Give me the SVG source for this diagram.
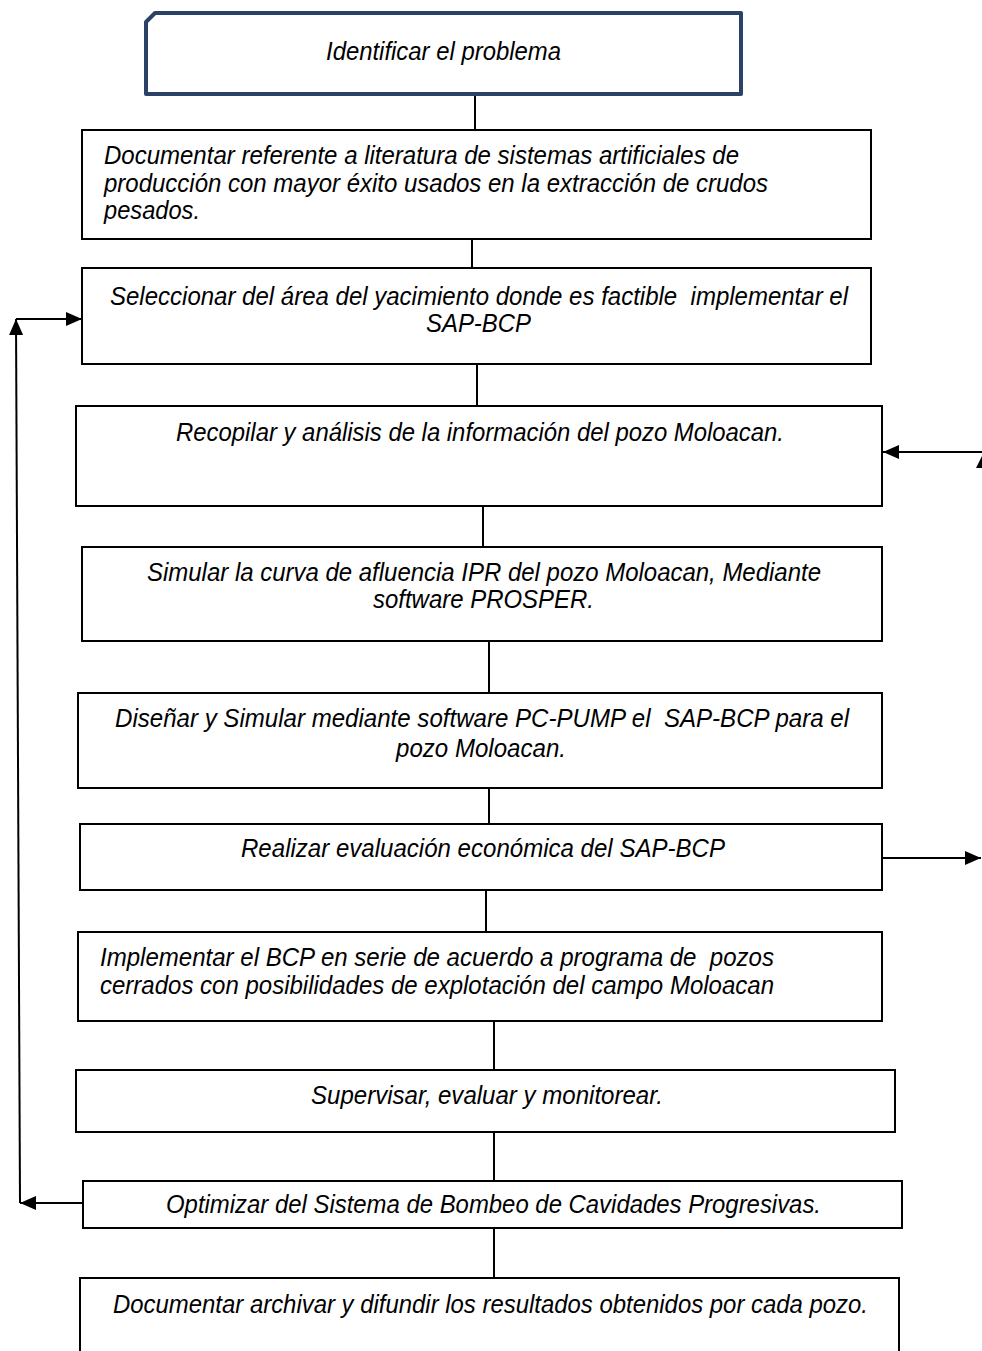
<svg xmlns="http://www.w3.org/2000/svg" width="982" height="1351" viewBox="0 0 982 1351">
<style>
.box{fill:#ffffff;stroke:#000000;stroke-width:2}
.top{fill:#ffffff;stroke:#2B4266;stroke-width:4;stroke-linejoin:round}
.t{font-family:"Liberation Sans",Arial,sans-serif;font-style:italic;font-size:25px;fill:#000000}
.c{stroke:#000000;stroke-width:2;fill:none}
.ah{fill:#000000}
</style>
<defs>
<marker id="arr" viewBox="0 0 16 14" refX="16" refY="7" markerWidth="16" markerHeight="14" markerUnits="userSpaceOnUse" orient="auto">
<path d="M0,0 L16,7 L0,14 Z" class="ah"/>
</marker>
</defs>
<rect width="982" height="1351" fill="#ffffff"/>
<g id="connectors">
<line class="c" x1="475" y1="94" x2="475" y2="130"/>
<line class="c" x1="472" y1="239" x2="472" y2="268"/>
<line class="c" x1="477" y1="364" x2="477" y2="406"/>
<line class="c" x1="483" y1="506" x2="483" y2="547"/>
<line class="c" x1="489" y1="641" x2="489" y2="693"/>
<line class="c" x1="489" y1="788" x2="489" y2="824"/>
<line class="c" x1="486" y1="890" x2="486" y2="932"/>
<line class="c" x1="494" y1="1021" x2="494" y2="1070"/>
<line class="c" x1="494" y1="1132" x2="494" y2="1181"/>
<line class="c" x1="494" y1="1228" x2="494" y2="1278"/>
<line class="c" x1="83" y1="1203" x2="20" y2="1203" marker-end="url(#arr)"/>
<line class="c" x1="20" y1="1203" x2="16" y2="319" marker-end="url(#arr)"/>
<line class="c" x1="16" y1="319" x2="82" y2="319" marker-end="url(#arr)"/>
<line class="c" x1="982" y1="452" x2="883" y2="452" marker-end="url(#arr)"/>
<line class="c" x1="882" y1="858" x2="981" y2="858" marker-end="url(#arr)"/>
<path class="ah" d="M982,456 L982,468 L976,468 Z"/>
</g>
<g id="n1">
<path class="top" d="M155,13 L741,13 L741,94 L146,94 L146,22 Z"/>
<text class="t" x="443.5" y="60" text-anchor="middle" textLength="235" lengthAdjust="spacingAndGlyphs">Identificar el problema</text>
</g>
<g id="n2">
<rect class="box" x="82" y="130" width="789" height="109"/>
<text class="t" x="104" y="164" textLength="635" lengthAdjust="spacingAndGlyphs">Documentar referente a literatura de sistemas artificiales de</text>
<text class="t" x="104" y="192" textLength="664" lengthAdjust="spacingAndGlyphs">producción con mayor éxito usados en la extracción de crudos</text>
<text class="t" x="104" y="219" textLength="96" lengthAdjust="spacingAndGlyphs">pesados.</text>
</g>
<g id="n3">
<rect class="box" x="82" y="268" width="789" height="96"/>
<text class="t" x="110" y="305" textLength="738" lengthAdjust="spacingAndGlyphs" xml:space="preserve">Seleccionar del área del yacimiento donde es factible  implementar el</text>
<text class="t" x="426" y="332" textLength="105" lengthAdjust="spacingAndGlyphs">SAP-BCP</text>
</g>
<g id="n4">
<rect class="box" x="76" y="406" width="806" height="100"/>
<text class="t" x="176" y="441" textLength="608" lengthAdjust="spacingAndGlyphs">Recopilar y análisis de la información del pozo Moloacan.</text>
</g>
<g id="n5">
<rect class="box" x="82" y="547" width="800" height="94"/>
<text class="t" x="147" y="581" textLength="674" lengthAdjust="spacingAndGlyphs">Simular la curva de afluencia IPR del pozo Moloacan, Mediante</text>
<text class="t" x="373" y="608" textLength="221" lengthAdjust="spacingAndGlyphs">software PROSPER.</text>
</g>
<g id="n6">
<rect class="box" x="78" y="693" width="804" height="95"/>
<text class="t" x="115" y="727" textLength="734" lengthAdjust="spacingAndGlyphs" xml:space="preserve">Diseñar y Simular mediante software PC-PUMP el  SAP-BCP para el</text>
<text class="t" x="396" y="757" textLength="170" lengthAdjust="spacingAndGlyphs">pozo Moloacan.</text>
</g>
<g id="n7">
<rect class="box" x="80" y="824" width="802" height="66"/>
<text class="t" x="241" y="857" textLength="484" lengthAdjust="spacingAndGlyphs">Realizar evaluación económica del SAP-BCP</text>
</g>
<g id="n8">
<rect class="box" x="78" y="932" width="804" height="89"/>
<text class="t" x="100" y="966" textLength="674" lengthAdjust="spacingAndGlyphs" xml:space="preserve">Implementar el BCP en serie de acuerdo a programa de  pozos</text>
<text class="t" x="100" y="994" textLength="674" lengthAdjust="spacingAndGlyphs">cerrados con posibilidades de explotación del campo Moloacan</text>
</g>
<g id="n9">
<rect class="box" x="76" y="1070" width="819" height="62"/>
<text class="t" x="311" y="1104" textLength="352" lengthAdjust="spacingAndGlyphs">Supervisar, evaluar y monitorear.</text>
</g>
<g id="n10">
<rect class="box" x="83" y="1181" width="819" height="47"/>
<text class="t" x="166" y="1213" textLength="655" lengthAdjust="spacingAndGlyphs">Optimizar del Sistema de Bombeo de Cavidades Progresivas.</text>
</g>
<g id="n11">
<rect class="box" x="80" y="1278" width="819" height="90"/>
<text class="t" x="113" y="1313" textLength="755" lengthAdjust="spacingAndGlyphs">Documentar archivar y difundir los resultados obtenidos por cada pozo.</text>
</g>
</svg>
